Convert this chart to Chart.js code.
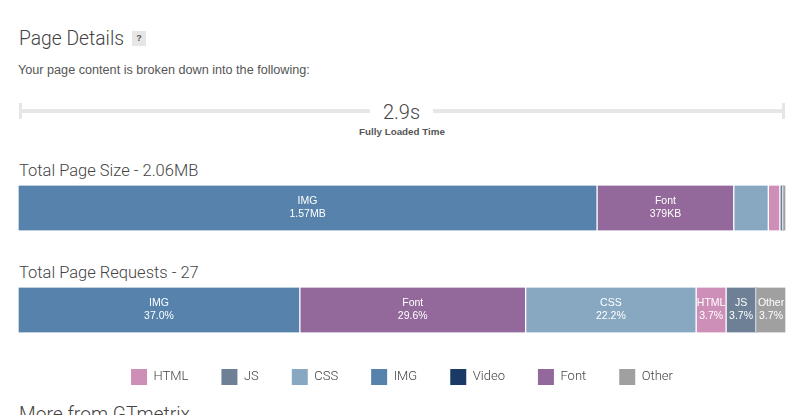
<!DOCTYPE html>
<html>
<head>
<meta charset="utf-8">
<title>Page Details</title>
<script src="https://cdn.jsdelivr.net/npm/chart.js@4"></script>
<style>
html, body { margin: 0; padding: 0; background: #fff; width: 800px; height: 415px; overflow: hidden; }
.t { position: absolute; white-space: nowrap; color: #444; font-family: Roboto, sans-serif; font-weight: 300; line-height: 1; }
.a { font-family: "Liberation Sans", Arial, sans-serif; font-weight: normal; }
.r { position: absolute; background: #e6e6e6; }
#wrap { position: absolute; left: 0; top: 157px; width: 800px; height: 263px; }
</style>
</head>
<body>
<div class="t" style="left:19px;top:29px;font-size:19.3px;">Page Details</div>
<div class="r a" style="left:132px;top:31px;width:14px;height:15px;font-size:9px;font-weight:bold;line-height:15px;text-align:center;color:#555;">?</div>
<div class="t a" style="left:18px;top:64px;font-size:12.65px;color:#555;">Your page content is broken down into the following:</div>

<div class="r" style="left:19px;top:109px;width:351px;height:4px;"></div>
<div class="r" style="left:433px;top:109px;width:352px;height:4px;"></div>
<div class="r" style="left:19px;top:103px;width:3px;height:16px;"></div>
<div class="r" style="left:782px;top:103px;width:3px;height:16px;"></div>
<div class="t" style="left:370px;width:63px;text-align:center;top:102px;font-size:20px;">2.9s</div>
<div class="t a" style="left:302px;width:200px;text-align:center;top:127px;font-size:9.8px;font-weight:bold;color:#555;">Fully Loaded Time</div>

<div class="t" style="left:19px;top:163px;font-size:16.5px;">Total Page Size - 2.06MB</div>
<div class="t" style="left:19px;top:265px;font-size:16.5px;">Total Page Requests - 27</div>
<div class="t" style="left:19px;top:405px;font-size:19.3px;">More from GTmetrix</div>

<div id="wrap"><canvas id="chart"></canvas></div>

<script>
var categories = ['Total Page Size', 'Total Page Requests'];

// share of the bar as drawn, in percent: [size, requests]
var img_values = [75.4, 36.7];
var font_values = [17.8, 29.4];
var css_values = [4.5, 22.2];
var html_values = [1.5, 3.9];
var js_values = [0.4, 3.9];
var video_values = [0, 0];
var other_values = [0.4, 3.9];

var img_labels = ['1.57MB', '37.0%'];
var font_labels = ['379KB', '29.6%'];
var css_labels = [null, '22.2%'];
var html_labels = [null, '3.7%'];
var js_labels = [null, '3.7%'];
var video_labels = [null, null];
var other_labels = [null, '3.7%'];

var legend_order = ['HTML', 'JS', 'CSS', 'IMG', 'Video', 'Font', 'Other'];

function make_dataset(name, values, labels, color) {
  return {
    label: name,
    data: values,
    segment_labels: labels,
    backgroundColor: color,
    borderColor: '#fff',
    borderWidth: { left: 1, right: 1, top: 0, bottom: 0 },
    borderSkipped: false,
    barThickness: 45
  };
}

// writes the type and its value inside each bar segment
var segment_text = {
  id: 'segment_text',
  afterDatasetsDraw: function (chart) {
    var ctx = chart.ctx;
    ctx.save();
    ctx.fillStyle = '#fff';
    ctx.font = '10.5px "Liberation Sans", Arial, sans-serif';
    ctx.textAlign = 'center';
    ctx.textBaseline = 'middle';
    chart.data.datasets.forEach(function (ds, i) {
      chart.getDatasetMeta(i).data.forEach(function (bar, j) {
        if (!ds.segment_labels[j]) return;
        var c = bar.getCenterPoint();
        ctx.fillText(ds.label, c.x, c.y - 6.5);
        ctx.fillText(ds.segment_labels[j], c.x, c.y + 6);
      });
    });
    ctx.restore();
  }
};

// the legend reserves its padding above the row, pull it up next to the bars
var legend_shift = {
  id: 'legend_shift',
  afterLayout: function (chart) {
    chart.legend.top -= 25;
  }
};

new Chart(document.getElementById('chart'), {
  type: 'bar',
  data: {
    labels: categories,
    datasets: [
      make_dataset('IMG', img_values, img_labels, '#5682ab'),
      make_dataset('Font', font_values, font_labels, '#93689b'),
      make_dataset('CSS', css_values, css_labels, '#88a8c2'),
      make_dataset('HTML', html_values, html_labels, '#cd8fb8'),
      make_dataset('JS', js_values, js_labels, '#6d8095'),
      make_dataset('Video', video_values, video_labels, '#1a3a66'),
      make_dataset('Other', other_values, other_labels, '#a0a0a0')
    ]
  },
  options: {
    indexAxis: 'y',
    responsive: true,
    maintainAspectRatio: false,
    animation: false,
    layout: { padding: { left: 18, right: 14 } },
    scales: {
      x: { stacked: true, min: 0, max: 100, display: false },
      y: { stacked: true, display: false }
    },
    plugins: {
      tooltip: { enabled: false },
      legend: {
        position: 'bottom',
        labels: {
          boxWidth: 16,
          boxHeight: 16,
          padding: 33,
          color: '#444',
          font: { family: 'Roboto, sans-serif', size: 13, weight: '300' },
          sort: function (a, b) {
            return legend_order.indexOf(a.text) - legend_order.indexOf(b.text);
          },
          generateLabels: function (chart) {
            var items = Chart.defaults.plugins.legend.labels.generateLabels(chart);
            items.forEach(function (item) { item.lineWidth = 0; });
            return items;
          }
        }
      }
    }
  },
  plugins: [segment_text, legend_shift]
});
</script>
</body>
</html>
